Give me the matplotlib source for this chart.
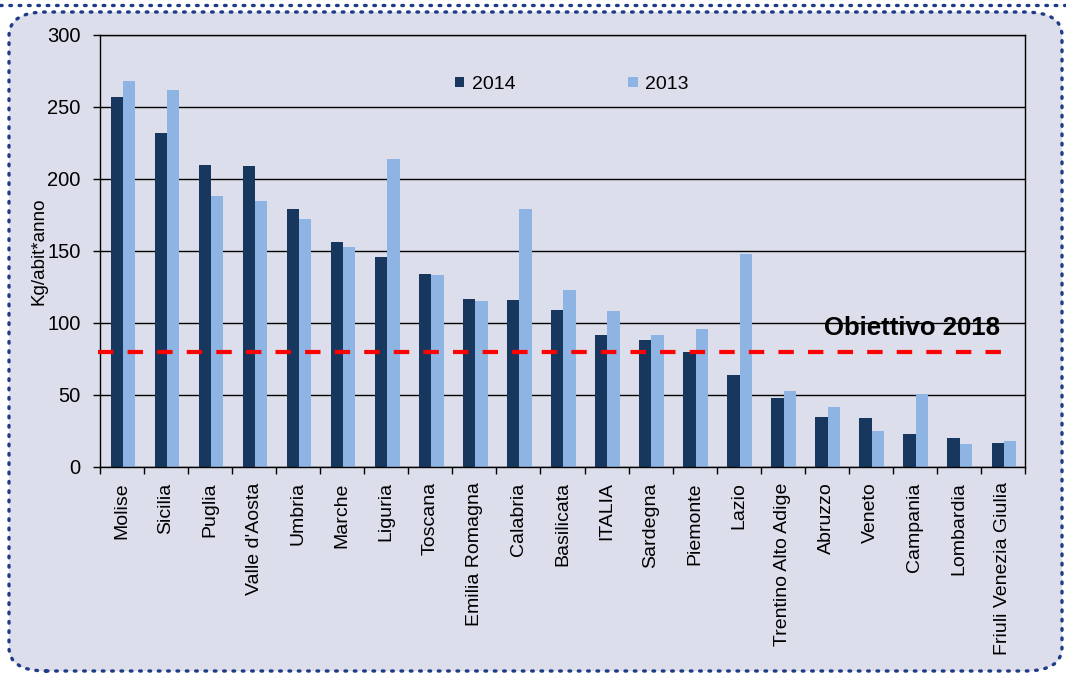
##############################################################################
########################################################## necessary modules #
##############################################################################
import numpy as np
import matplotlib
matplotlib.use('Agg')
import matplotlib.pyplot as plt
from matplotlib.patches import FancyBboxPatch
from matplotlib.lines import Line2D

##############################################################################
####################################################################### data #
##############################################################################

regioni = ['Molise', 'Sicilia', 'Puglia', "Valle d'Aosta", 'Umbria', 'Marche',
           'Liguria', 'Toscana', 'Emilia Romagna', 'Calabria', 'Basilicata',
           'ITALIA', 'Sardegna', 'Piemonte', 'Lazio', 'Trentino Alto Adige',
           'Abruzzo', 'Veneto', 'Campania', 'Lombardia',
           'Friuli Venezia Giulia']

val_2014 = [257, 232, 210, 209, 179, 156, 146, 134, 117, 116, 109,
            92, 88, 80, 64, 48, 35, 34, 23, 20, 17]
val_2013 = [268, 262, 188, 185, 172, 153, 214, 133, 115, 179, 123,
            108, 92, 96, 148, 53, 42, 25, 51, 16, 18]

obiettivo = 80          # obiettivo 2018 in Kg/abit*anno
y_ticks = [0, 50, 100, 150, 200, 250, 300]

##############################################################################
############################################################## visualization #
##############################################################################

plt.rcParams['font.family'] = ['Liberation Sans', 'DejaVu Sans']

c_dark  = '#17375e'
c_light = '#8eb4e3'
c_bg    = '#dcdeeb'
c_dots  = '#1f3c88'

fig = plt.figure(figsize=(10.66, 6.74), dpi=100)
fig.patch.set_facecolor('white')

#-------------------------------------------------------- rounded dotted frame
W, H = 1066, 674
frame = FancyBboxPatch((9/W, 3/H), 1053/W, 659/H,
                       boxstyle='round,pad=0,rounding_size=0.035',
                       transform=fig.transFigure,
                       facecolor=c_bg, edgecolor=c_dots,
                       linewidth=2.4, linestyle=(0, (0.5, 2.3)),
                       capstyle='round', zorder=-5)
fig.patches.append(frame)
fig.lines.append(Line2D([0, 1], [1 - 5/H, 1 - 5/H], transform=fig.transFigure,
                        color=c_dots, linewidth=2.4,
                        linestyle=(0, (0.5, 2.3)),
                        dash_capstyle='round', zorder=-5))

#------------------------------------------------------------------- the axes
ax = fig.add_axes([100/W, 1 - 467/H, 925/W, 432/H])
ax.patch.set_alpha(0)

x = np.arange(len(regioni))
w = 0.28

ax.bar(x - 0.12, val_2014, width=w, color=c_dark, label='2014', zorder=2)
ax.bar(x + 0.16, val_2013, width=w, color=c_light, label='2013', zorder=2)

# dashed target line
ax.plot([-0.55, 20.22], [obiettivo, obiettivo],
        color='#ff0000', linewidth=3.0, linestyle=(0, (3.7, 3.4)),
        solid_capstyle='butt', dash_capstyle='butt', zorder=3, clip_on=False)
ax.text(19.93, 96.5, 'Obiettivo 2018', ha='right', va='center',
        fontsize=18.5, fontweight='bold', zorder=4)

ax.set_xlim(-0.5, len(regioni) - 0.5)
ax.set_ylim(0, 300)
ax.set_yticks(y_ticks)
ax.yaxis.grid(True, color='black', linewidth=1.0)
ax.set_axisbelow(True)

ax.set_xticks(x)
ax.set_xticklabels(regioni, rotation=90, fontsize=14)
ax.set_xticks(np.arange(len(regioni) + 1) - 0.5, minor=True)
ax.tick_params(axis='x', which='major', length=0, pad=11)
ax.tick_params(axis='x', which='minor', length=5, width=1, direction='out')
ax.tick_params(axis='y', length=5, width=1, pad=9, labelsize=14.5)

for s in ax.spines.values():
    s.set_color('black')
    s.set_linewidth(1.0)

ax.set_ylabel('Kg/abit*anno', fontsize=13.5)
ax.yaxis.set_label_coords(-0.057, 0.5)

ax.legend(loc='upper left', bbox_to_anchor=(0.365, 0.946), ncol=2,
          frameon=False, fontsize=14, handlelength=0.47, handleheight=0.47,
          handletextpad=0.4, columnspacing=5.8)

#--------------------------------------------------------------------save plot
plt.savefig('out.png', dpi=100, facecolor=fig.get_facecolor())
